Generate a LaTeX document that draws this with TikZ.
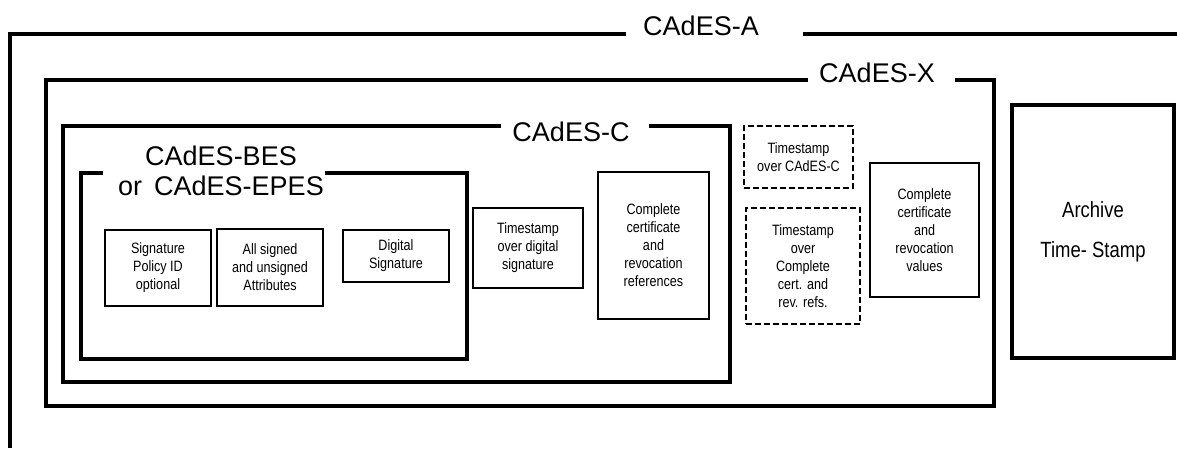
\documentclass[tikz,border=0pt]{standalone}
\usepackage{fontspec}
\setmainfont{Liberation Sans}
\newfontfamily\narrowfont[FakeStretch=0.84]{Liberation Sans}
\usetikzlibrary{positioning}

\tikzset{
  frame/.style={line width=3.6pt},
  tag/.style={font=\fontsize{27}{30}\selectfont, inner sep=0pt},
  part/.style={draw, line width=1.3pt, align=center, inner sep=0pt,
    font=\narrowfont\fontsize{15}{18}\selectfont},
  stamp/.style={part, line width=2pt, dash pattern=on 6pt off 3pt},
}

\begin{document}
\begin{tikzpicture}[x=1pt, y=-1pt]
    \useasboundingbox (0,0) rectangle (1177,448);
    % nested frames, each one open where its tag sits
    \draw[frame] (626,34) -| (10,448);
    \draw[frame] (803,34) -- (1177,34);
    \draw[frame] (808,80) -| (46,406) -| (994,80) -- (955,80);
    \draw[frame] (501,126) -| (63,382) -| (730,126) -- (649,126);
    \draw[frame] (103,173) -| (81,359) -| (467,173) -- (325,173);
    \node[tag, anchor=base] (cadesA) at (701,35) {CAdES-A};
    \node[tag, anchor=base] (cadesX) at (877,82) {CAdES-X};
    \node[tag, anchor=base] (cadesC) at (571,141) {CAdES-C};
    \node[tag, anchor=base] (bes) at (221,165) {CAdES-BES};
    \node[tag, below=10pt of bes] (epes) {or\,\ CAdES-EPES};
    % contents
    \node[part, minimum width=106, minimum height=76] (policy) at (158,268) {Signature\\Policy ID\\optional};
    \node[part, minimum width=106, minimum height=77] (attrs) at (270,267.5) {All signed\\and unsigned\\Attributes};
    \node[part, minimum width=106, minimum height=52] (digsig) at (396,256) {Digital\\Signature};
    \node[part, minimum width=110, minimum height=80] (tsdig) at (528,248) {Timestamp\\over digital\\signature};
    \node[part, minimum width=111, minimum height=147] (refs) at (653.5,245.5) {Complete\\certificate\\and\\revocation\\references};
    \node[stamp, minimum width=109, minimum height=62] (tsC) at (798.5,157) {Timestamp\\over CAdES-C};
    \node[stamp, minimum width=114, minimum height=116] (tsrefs) at (803,266) {Timestamp\\over\\Complete\\cert. and\\rev. refs.};
    \node[part, minimum width=109, minimum height=134] (vals) at (924.5,230) {Complete\\certificate\\and\\revocation\\values};
    \node[part, frame, minimum width=162, minimum height=253,
      font=\narrowfont\fontsize{22}{40}\selectfont] (archive) at (1093,231.5) {Archive\\Time- Stamp};
\end{tikzpicture}
\end{document}
